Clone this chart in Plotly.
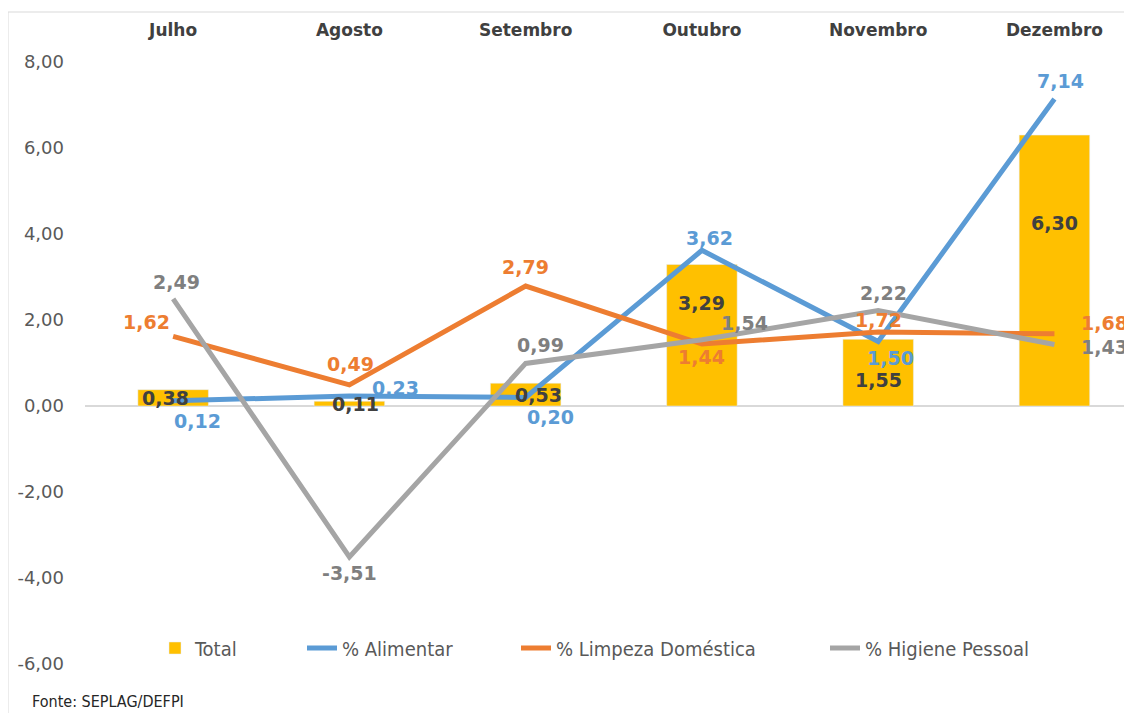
import plotly.graph_objects as go

meses = ['Julho', 'Agosto', 'Setembro', 'Outubro', 'Novembro', 'Dezembro']
total = [0.38, 0.11, 0.53, 3.29, 1.55, 6.30]
alimentar = [0.12, 0.23, 0.20, 3.62, 1.50, 7.14]
limpeza = [1.62, 0.49, 2.79, 1.44, 1.72, 1.68]
higiene = [2.49, -3.51, 0.99, 1.54, 2.22, 1.43]
y_ticks = [-6, -4, -2, 0, 2, 4, 6, 8]

AMARELO = '#FFC000'
AZUL = '#5B9BD5'
LARANJA = '#ED7D31'
CINZA = '#A5A5A5'

FONT = 'DejaVu Sans'
NARROW = 'Liberation Sans Narrow, DejaVu Sans Condensed, Arial Narrow, sans-serif'

# the page body adds an 8px margin, so the figure is 8px smaller than the window
OFF = 8
W, H = 1132 - OFF, 713 - OFF
# plot area on screen: x 85..1132, y 62..664
L, R, T, B = 85 - OFF, 0, 62 - OFF, 713 - 664
PW = W - L - R
PH = H - T - B


def px_x(p):
    return (p - OFF - L) / PW


def px_y(p):
    return (H - B - (p - OFF)) / PH


def fmt(v):
    return f'{v:.2f}'.replace('.', ',')


fig = go.Figure()
fig.add_trace(go.Bar(x=meses, y=total, name='Total', marker_color=AMARELO,
                     width=0.4, legend='legend'))
fig.add_trace(go.Scatter(x=meses, y=alimentar, name='% Alimentar', mode='lines',
                         line=dict(color=AZUL, width=5), legend='legend2'))
fig.add_trace(go.Scatter(x=meses, y=limpeza, name='% Limpeza Doméstica', mode='lines',
                         line=dict(color=LARANJA, width=5), legend='legend3'))
fig.add_trace(go.Scatter(x=meses, y=higiene, name='% Higiene Pessoal', mode='lines',
                         line=dict(color=CINZA, width=5), legend='legend4'))

# label offsets in pixels (dx right, dy down), per series
series = [
    (total, '#404040', [(-8, 0), (6, 0), (13, 0), (0, -32), (0, 7), (0, -48)], True),
    (alimentar, AZUL, [(24, 20), (46, -8), (25, 20), (8, -12), (12, 16), (6, -18)], False),
    (limpeza, LARANJA, [(-27, -14), (1, -21), (0, -19), (0, 13), (0, -12), (50, -11)], False),
    (higiene, '#7F7F7F', [(3, -17), (0, 16), (15, -18), (43, -17), (5, -18), (50, 2)], False),
]
for vals, cor, offs, meio in series:
    for m, v, (dx, dy) in zip(meses, vals, offs):
        fig.add_annotation(x=m, y=v / 2 if meio else v, text=fmt(v),
                           showarrow=False, xshift=dx, yshift=-dy,
                           font=dict(family=FONT, size=19, color=cor, weight='bold'))

fig.add_annotation(xref='paper', yref='paper', x=px_x(30), y=px_y(701), xanchor='left',
                   yanchor='middle', text='Fonte: SEPLAG/DEFPI', showarrow=False,
                   font=dict(family=NARROW, size=16, color='#262626'))

fig.add_shape(type='rect', xref='paper', yref='paper', x0=px_x(8), x1=px_x(1145),
              y0=px_y(730), y1=px_y(12), line=dict(color='#D9D9D9', width=1), layer='below')

leg = dict(orientation='h', yanchor='middle', y=px_y(648), xanchor='left',
           font=dict(family=NARROW, size=20, color='#595959'), bgcolor='rgba(0,0,0,0)')
fig.update_layout(
    width=W, height=H,
    margin=dict(l=L, r=R, t=T, b=B),
    plot_bgcolor='white', paper_bgcolor='white',
    showlegend=True,
    legend=dict(leg, x=px_x(155)),
    legend2=dict(leg, x=px_x(302)),
    legend3=dict(leg, x=px_x(516)),
    legend4=dict(leg, x=px_x(825)),
    xaxis=dict(side='top', range=[-0.5, 5.44], showline=False, showgrid=False, ticks='',
               automargin=False, ticklabelstandoff=22,
               tickfont=dict(family=FONT, size=17, color='#404040', weight='bold')),
    yaxis=dict(range=[-6, 8], tickvals=y_ticks, ticktext=[fmt(v) for v in y_ticks],
               showgrid=False, showline=False, automargin=False,
               zeroline=True, zerolinecolor='#D9D9D9', zerolinewidth=2,
               ticklabelstandoff=20,
               tickfont=dict(family=FONT, size=18, color='#595959')),
)

fig.write_html('out.html')
